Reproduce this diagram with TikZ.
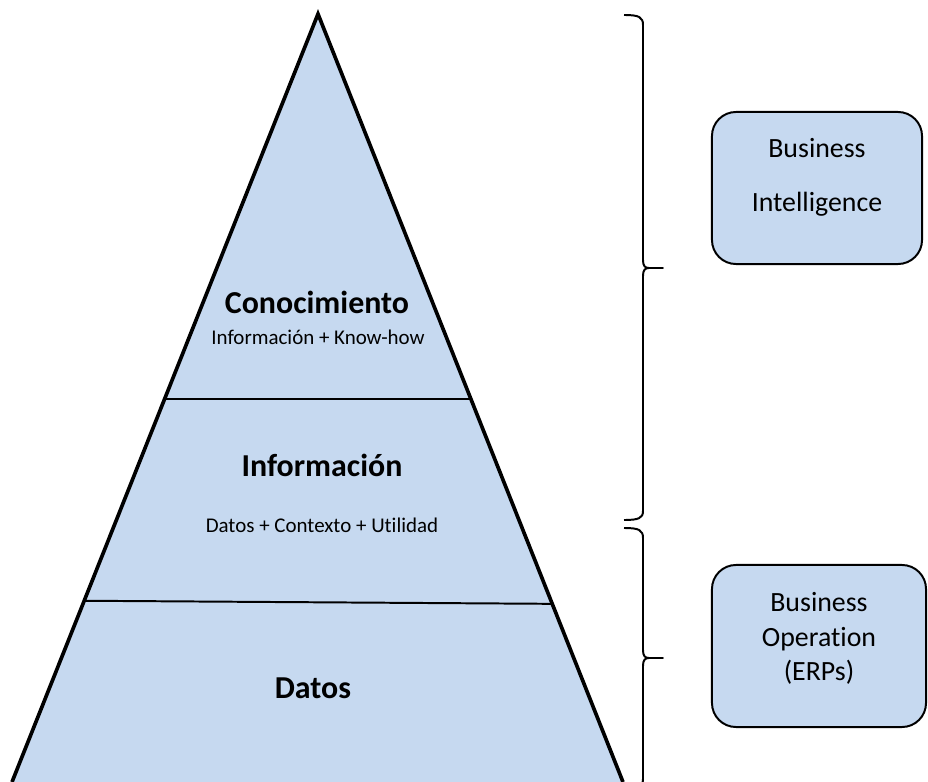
\documentclass[tikz,border=0pt]{standalone}
\usepackage{fontspec}
\setmainfont[Ligatures=NoCommon]{Carlito}
\usetikzlibrary{calc}
\definecolor{pyrblue}{RGB}{198,217,240}

\begin{document}
\begin{tikzpicture}[x=0.025cm, y=-0.025cm,
    title/.style={font=\fontsize{22.7}{27}\selectfont\bfseries, anchor=base},
    note/.style={font=\fontsize{14.9}{18}\selectfont, anchor=base},
    sidebox/.style={draw, line width=1.4pt, rounded corners=0.6cm, fill=pyrblue, align=center, font=\fontsize{19.8}{24.5}\selectfont},
    bracket/.style={line width=1.4pt, line join=round}]
  \useasboundingbox (0,0) rectangle (928,782);
  % pyramid
  \coordinate (top) at (318,14);
  \coordinate (bl) at (12,782);
  \coordinate (br) at (623,782);
  \fill[pyrblue] (bl) -- (top) -- (br) -- cycle;
  \draw[line width=2.6pt, line join=miter] (bl) -- (top) -- (br);
  \draw[line width=1.4pt] ($(top)!0.501!(bl)$) -- ($(top)!0.501!(br)$);
  \draw[line width=1.4pt] ($(top)!0.764!(bl)$) -- ($(top)!0.768!(br)$);

  \node (con) at (317,313) [title] {Conocimiento};
  \node (conkh) at (318,344) [note] {Información + Know-how};
  \node (inf) at (322,476) [title] {Información};
  \node (infdu) at (322,532) [note] {Datos + Contexto + Utilidad};
  \node (dat) at (313,698) [title] {Datos};

  % braces
  \coordinate (b1s) at (624,15);
  \coordinate (b1m) at (663,268);
  \coordinate (b1e) at (624,520);
  \coordinate (b2s) at (624,528);
  \coordinate (b2m) at (663,658);
  \coordinate (b2e) at (624,788);
  \draw[bracket] (b1s) .. controls (639,15) and (643,17) .. (643,25) -- (643,260)
    .. controls (643,266) and (645,268) .. (649,268) -- (b1m) -- (649,268)
    .. controls (645,268) and (643,270) .. (643,276) -- (643,511)
    .. controls (643,518) and (639,520) .. (b1e);
  \draw[bracket] (b2s) .. controls (639,528) and (643,530) .. (643,538) -- (643,650)
    .. controls (643,656) and (645,658) .. (649,658) -- (b2m) -- (649,658)
    .. controls (645,658) and (643,660) .. (643,666) -- (643,779)
    .. controls (643,786) and (639,788) .. (b2e);

  \node (bi) at (817,188) [sidebox, minimum width=5.25cm, minimum height=3.8cm, text depth=19pt] {Business\\[14pt]Intelligence};
  \node (erp) at (819,646) [sidebox, minimum width=5.35cm, minimum height=4.05cm, text depth=13.5pt] {Business\\Operation\\(ERPs)};
\end{tikzpicture}
\end{document}
